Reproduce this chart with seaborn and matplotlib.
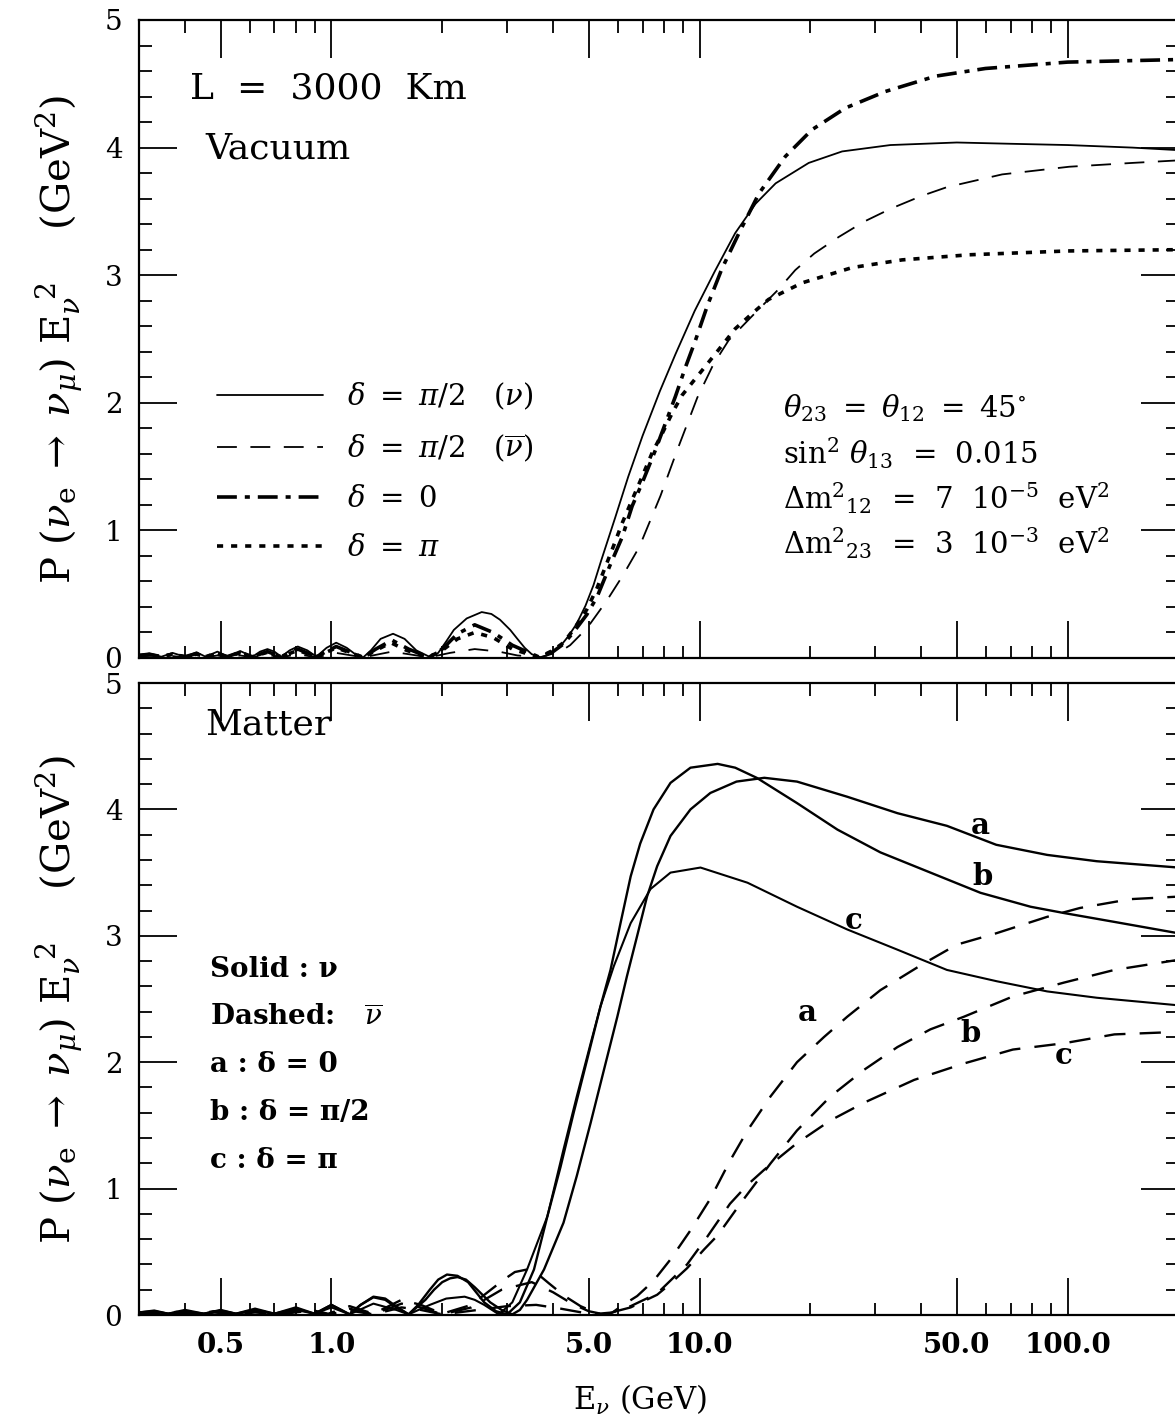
import matplotlib
matplotlib.use("Agg")
import matplotlib.pyplot as plt
import seaborn as sns
from matplotlib.ticker import FixedLocator, NullFormatter

# ---------------- data ----------------
# Top panel (vacuum), L = 3000 km
E_vac_nu_pi2 = [0.30, 0.32, 0.345, 0.37, 0.40, 0.43, 0.455, 0.49, 0.52, 0.565, 0.61, 0.64, 0.67, 0.70, 0.73,
                0.77, 0.81, 0.86, 0.91, 0.97, 1.03, 1.10, 1.16, 1.22, 1.28, 1.36, 1.47, 1.58, 1.70, 1.86,
                1.95, 2.05, 2.15, 2.33, 2.56, 2.72, 2.87, 3.06, 3.2, 3.35, 3.5, 3.7, 3.85, 4.0, 4.18, 4.4,
                4.64, 4.9, 5.15, 5.4, 5.9, 6.4, 7.0, 7.8, 8.6, 9.7, 11.0, 12.5, 14.2, 16.1, 19.8, 24.4,
                33.0, 50.0, 70.0, 100.0, 150.0, 200.0]
P_vac_nu_pi2 = [0.02, 0.035, 0.01, 0.04, 0.01, 0.045, 0.01, 0.05, 0.01, 0.055, 0.01, 0.05, 0.07, 0.05, 0.01,
                0.06, 0.09, 0.06, 0.01, 0.08, 0.12, 0.08, 0.03, 0.005, 0.06, 0.15, 0.19, 0.15, 0.06, 0.005,
                0.04, 0.13, 0.22, 0.31, 0.36, 0.345, 0.30, 0.22, 0.15, 0.08, 0.03, 0.005, 0.02, 0.05, 0.09, 0.17,
                0.27, 0.41, 0.57, 0.76, 1.10, 1.42, 1.74, 2.09, 2.38, 2.72, 3.03, 3.33, 3.56, 3.72, 3.88, 3.97,
                4.02, 4.04, 4.03, 4.02, 4.00, 3.98]

E_vac_nubar_pi2 = [0.30, 0.345, 0.37, 0.40, 0.43, 0.455, 0.49, 0.52, 0.565, 0.61, 0.67, 0.73, 0.81, 0.91,
                   1.03, 1.22, 1.46, 1.84, 2.1, 2.45, 2.85, 3.2, 3.68, 4.18, 4.45, 4.74, 5.05, 5.6, 6.2, 6.86,
                   7.83, 8.7, 9.86, 10.9, 12.0, 13.9, 16.4, 18.2, 20.5, 23.9, 28.0, 33.0, 40.0, 47.0, 66.4,
                   101.0, 150.0, 200.0]
P_vac_nubar_pi2 = [0.01, 0.005, 0.015, 0.005, 0.015, 0.005, 0.02, 0.005, 0.02, 0.005, 0.025, 0.005, 0.03, 0.005,
                   0.04, 0.005, 0.05, 0.005, 0.04, 0.07, 0.05, 0.02, 0.005, 0.05, 0.10, 0.18, 0.27, 0.45, 0.65, 0.87,
                   1.27, 1.63, 2.04, 2.30, 2.49, 2.68, 2.89, 3.04, 3.17, 3.30, 3.42, 3.52, 3.62, 3.69, 3.79,
                   3.85, 3.88, 3.90]

E_vac_d0 = [0.30, 0.32, 0.345, 0.37, 0.40, 0.43, 0.455, 0.49, 0.52, 0.565, 0.61, 0.67, 0.73, 0.81, 0.91,
            1.03, 1.22, 1.32, 1.46, 1.62, 1.84, 2.0, 2.2, 2.45, 2.75, 3.1, 3.68, 4.0, 4.27, 4.54, 4.94,
            5.27, 5.7, 6.17, 6.56, 6.98, 7.59, 8.08, 8.6, 9.16, 9.75, 10.5, 11.5, 12.8, 14.5, 17.1, 20.2,
            24.9, 32.0, 43.8, 59.8, 100.0, 200.0]
P_vac_d0 = [0.02, 0.03, 0.01, 0.03, 0.01, 0.035, 0.01, 0.04, 0.01, 0.045, 0.01, 0.05, 0.01, 0.07, 0.01,
            0.09, 0.005, 0.07, 0.14, 0.07, 0.005, 0.07, 0.19, 0.26, 0.20, 0.10, 0.005, 0.05, 0.11, 0.20, 0.34,
            0.48, 0.72, 0.95, 1.19, 1.37, 1.63, 1.84, 2.05, 2.28, 2.49, 2.76, 3.05, 3.33, 3.64, 3.93, 4.14,
            4.31, 4.44, 4.56, 4.62, 4.67, 4.69]

E_vac_dpi = [0.30, 0.32, 0.345, 0.37, 0.40, 0.43, 0.455, 0.49, 0.52, 0.565, 0.61, 0.67, 0.73, 0.81, 0.91,
             1.03, 1.22, 1.32, 1.45, 1.6, 1.83, 2.0, 2.2, 2.45, 2.75, 3.1, 3.66, 4.0, 4.27, 4.54, 4.94,
             5.27, 5.79, 6.17, 6.56, 6.98, 7.44, 7.92, 8.43, 8.97, 9.75, 10.2, 11.3, 12.5, 13.9, 15.4, 19.0,
             26.0, 35.5, 54.0, 100.0, 200.0]
P_vac_dpi = [0.02, 0.025, 0.01, 0.03, 0.01, 0.03, 0.01, 0.035, 0.01, 0.04, 0.01, 0.045, 0.01, 0.06, 0.01,
             0.08, 0.005, 0.06, 0.12, 0.06, 0.005, 0.06, 0.15, 0.20, 0.16, 0.07, 0.005, 0.06, 0.12, 0.22, 0.38,
             0.55, 0.85, 1.06, 1.24, 1.42, 1.61, 1.76, 1.92, 2.06, 2.19, 2.26, 2.42, 2.58, 2.70, 2.81, 2.94,
             3.06, 3.12, 3.16, 3.19, 3.20]

# Bottom panel (matter): solid = neutrino, dashed = antineutrino
E_mat_nu_a = [0.30, 0.33, 0.36, 0.40, 0.45, 0.5, 0.55, 0.62, 0.70, 0.80, 0.90, 1.0, 1.12, 1.2, 1.3, 1.4, 1.5,
              1.62, 1.8, 1.9, 2.0, 2.1, 2.2, 2.32, 2.45, 2.7, 2.9, 3.1, 3.25, 3.4, 3.78, 4.27, 4.64, 5.06, 5.5,
              5.98, 6.35, 6.77, 7.2, 7.67, 8.34, 9.45, 10.7, 12.6, 15.0, 18.4, 25.2, 34.5, 47.0, 64.0, 88.0,
              120.0, 200.0]
P_mat_nu_a = [0.02, 0.03, 0.01, 0.03, 0.01, 0.035, 0.01, 0.04, 0.01, 0.05, 0.01, 0.08, 0.005, 0.08, 0.14, 0.12,
              0.06, 0.005, 0.12, 0.20, 0.26, 0.29, 0.30, 0.28, 0.22, 0.10, 0.04, 0.005, 0.04, 0.12, 0.36, 0.73,
              1.10, 1.52, 1.94, 2.36, 2.68, 3.00, 3.31, 3.55, 3.79, 4.00, 4.13, 4.22, 4.25, 4.22, 4.10, 3.97,
              3.87, 3.72, 3.64, 3.59, 3.54]

E_mat_nu_b = [0.30, 0.33, 0.36, 0.40, 0.45, 0.5, 0.55, 0.62, 0.70, 0.80, 0.90, 1.0, 1.12, 1.2, 1.3, 1.4, 1.48,
              1.62, 1.72, 1.85, 1.95, 2.06, 2.2, 2.35, 2.6, 2.8, 3.0, 3.25, 3.55, 3.86, 4.19, 4.55, 4.95, 5.38,
              5.73, 6.1, 6.5, 6.9, 7.5, 8.34, 9.45, 11.2, 12.5, 14.3, 18.4, 23.7, 31.0, 42.4, 58.0, 79.3,
              97.8, 134.0, 200.0]
P_mat_nu_b = [0.02, 0.035, 0.01, 0.04, 0.01, 0.04, 0.01, 0.05, 0.01, 0.06, 0.01, 0.08, 0.005, 0.08, 0.145, 0.13,
              0.08, 0.005, 0.08, 0.20, 0.28, 0.32, 0.31, 0.26, 0.10, 0.03, 0.005, 0.10, 0.36, 0.78, 1.17, 1.60,
              2.02, 2.44, 2.73, 3.10, 3.47, 3.73, 4.00, 4.21, 4.33, 4.36, 4.33, 4.25, 4.05, 3.84, 3.66, 3.50,
              3.34, 3.23, 3.18, 3.11, 3.02]

E_mat_nu_c = [0.30, 0.33, 0.36, 0.40, 0.45, 0.5, 0.55, 0.62, 0.70, 0.80, 0.90, 1.0, 1.12, 1.3, 1.5, 1.62,
              1.85, 2.05, 2.3, 2.45, 2.6, 2.85, 3.1, 3.4, 3.86, 4.27, 4.64, 5.06, 5.38, 5.85, 6.5, 7.36, 8.34,
              10.06, 13.5, 18.4, 25.2, 34.5, 47.0, 64.3, 88.0, 120.0, 200.0]
P_mat_nu_c = [0.015, 0.025, 0.01, 0.025, 0.01, 0.03, 0.01, 0.03, 0.01, 0.04, 0.01, 0.06, 0.005, 0.09, 0.04, 0.005,
              0.08, 0.13, 0.145, 0.12, 0.08, 0.005, 0.10, 0.36, 0.78, 1.31, 1.73, 2.15, 2.44, 2.76, 3.10, 3.37,
              3.50, 3.54, 3.42, 3.23, 3.05, 2.89, 2.73, 2.64, 2.56, 2.51, 2.45]

E_mat_nubar_a = [0.30, 0.34, 0.38, 0.43, 0.48, 0.55, 0.62, 0.72, 0.85, 0.98, 1.12, 1.3, 1.55, 1.75, 2.0,
                 2.4, 2.94, 3.15, 3.4, 3.65, 3.9, 4.3, 4.75, 5.3, 5.8, 6.2, 6.77, 7.5, 8.34, 9.45, 10.7, 12.1,
                 13.5, 15.6, 18.4, 21.8, 25.2, 31.0, 40.6, 50.0, 64.0, 88.0, 108.0, 148.0, 200.0]
P_mat_nubar_a = [0.02, 0.01, 0.025, 0.01, 0.03, 0.01, 0.035, 0.01, 0.05, 0.01, 0.07, 0.01, 0.12, 0.08, 0.01,
                 0.08, 0.28, 0.34, 0.36, 0.32, 0.25, 0.15, 0.07, 0.01, 0.02, 0.08, 0.15, 0.27, 0.44, 0.67, 0.92,
                 1.22, 1.46, 1.73, 2.00, 2.20, 2.36, 2.57, 2.78, 2.93, 3.02, 3.15, 3.22, 3.29, 3.31]

E_mat_nubar_b = [0.30, 0.34, 0.38, 0.43, 0.48, 0.55, 0.62, 0.72, 0.85, 0.98, 1.12, 1.3, 1.55, 1.75, 2.0,
                 2.4, 2.9, 3.5, 4.0, 4.5, 5.0, 5.5, 6.5, 7.67, 8.2, 9.25, 10.3, 11.2, 12.9, 15.6, 18.4,
                 22.7, 28.0, 34.5, 42.4, 52.3, 71.0, 97.8, 134.0, 200.0]
P_mat_nubar_b = [0.015, 0.005, 0.02, 0.005, 0.025, 0.005, 0.03, 0.005, 0.04, 0.005, 0.05, 0.005, 0.09, 0.06, 0.005,
                 0.06, 0.20, 0.26, 0.18, 0.09, 0.03, 0.005, 0.06, 0.16, 0.23, 0.37, 0.52, 0.63, 0.88, 1.20, 1.46,
                 1.73, 1.94, 2.12, 2.26, 2.36, 2.52, 2.63, 2.73, 2.81]

E_mat_nubar_c = [0.30, 0.34, 0.38, 0.43, 0.48, 0.55, 0.62, 0.72, 0.85, 0.98, 1.12, 1.3, 1.55, 1.75, 2.0,
                 2.5, 3.0, 3.6, 4.2, 5.0, 5.6, 6.5, 7.67, 9.25, 10.5, 12.1, 13.5, 15.0, 18.4, 22.7, 28.0,
                 38.3, 52.3, 71.0, 97.8, 134.0, 200.0]
P_mat_nubar_c = [0.01, 0.005, 0.015, 0.005, 0.02, 0.005, 0.02, 0.005, 0.03, 0.005, 0.035, 0.005, 0.06, 0.04, 0.005,
                 0.04, 0.07, 0.08, 0.05, 0.01, 0.005, 0.07, 0.17, 0.40, 0.62, 0.88, 1.03, 1.15, 1.36, 1.54, 1.68,
                 1.86, 1.99, 2.10, 2.15, 2.22, 2.24]

x_major = [0.5, 1.0, 5.0, 10.0, 50.0, 100.0]
x_major_labels = ["0.5", "1.0", "5.0", "10.0", "50.0", "100.0"]
x_minor = [0.3, 0.4, 0.6, 0.7, 0.8, 0.9, 2, 3, 4, 6, 7, 8, 9, 20, 30, 40, 60, 70, 80, 90, 200]
y_major = [0, 1, 2, 3, 4, 5]
y_minor = [0.2, 0.4, 0.6, 0.8, 1.2, 1.4, 1.6, 1.8, 2.2, 2.4, 2.6, 2.8, 3.2, 3.4, 3.6, 3.8, 4.2, 4.4, 4.6, 4.8]

legend_labels = [r"$\delta\ =\ \pi/2\ \ \ (\nu)$", r"$\delta\ =\ \pi/2\ \ \ (\overline{\nu})$",
                 r"$\delta\ =\ 0$", r"$\delta\ =\ \pi$"]
param_lines = [r"$\theta_{23}\ =\ \theta_{12}\ =\ 45^{\circ}$",
               r"sin$^2\ \theta_{13}$  =  0.015",
               r"$\Delta$m$^2{}_{12}$  =  7  10$^{-5}$  eV$^2$",
               r"$\Delta$m$^2{}_{23}$  =  3  10$^{-3}$  eV$^2$"]
matter_key = ["Solid : \u03bd", r"Dashed:   $\overline{\nu}$", "a : \u03b4 = 0",
              "b : \u03b4 = \u03c0/2", "c : \u03b4 = \u03c0"]
y_label = (r"P $(\nu_{\rm e}\;\rightarrow\;\nu_\mu)$ E$_\nu^{\;\;2}$"
           + "    " + r"(GeV$^2$)")

# ---------------- style ----------------
sns.set_theme(style="ticks")
plt.rcParams["font.family"] = ["DejaVu Serif"]
plt.rcParams["mathtext.fontset"] = "dejavuserif"
plt.rcParams["axes.edgecolor"] = "black"
plt.rcParams["xtick.color"] = "black"
plt.rcParams["ytick.color"] = "black"
plt.rcParams["text.color"] = "black"
plt.rcParams["axes.labelcolor"] = "black"

W, H = 1175, 1421
fig = plt.figure(figsize=(W / 100, H / 100), dpi=100)
x0, xw = 139, 1039.4
ax1 = fig.add_axes([x0 / W, 1 - 658 / H, xw / W, (658 - 20) / H])
ax2 = fig.add_axes([x0 / W, 1 - 1315 / H, xw / W, (1315 - 683) / H])


def draw(ax, E, P, lw, ls):
    sns.lineplot(x=E, y=P, ax=ax, color="black", linewidth=lw, estimator=None, sort=False)
    ln = ax.lines[-1]
    ln.set_linestyle(ls)
    ln.set_solid_joinstyle("round")
    return ln


# top panel curves
h1 = draw(ax1, E_vac_nu_pi2, P_vac_nu_pi2, 1.3, "-")
h2 = draw(ax1, E_vac_nubar_pi2, P_vac_nubar_pi2, 1.3, (0, (11, 7.5)))
h3 = draw(ax1, E_vac_d0, P_vac_d0, 2.6, (0, (5.5, 2.2, 1.4, 2.2)))
h4 = draw(ax1, E_vac_dpi, P_vac_dpi, 2.6, (0, (1.7, 2.2)))

# bottom panel curves
dash_b = (0, (9, 6))
draw(ax2, E_mat_nu_a, P_mat_nu_a, 1.7, "-")
draw(ax2, E_mat_nu_b, P_mat_nu_b, 1.7, "-")
draw(ax2, E_mat_nu_c, P_mat_nu_c, 1.5, "-")
draw(ax2, E_mat_nubar_a, P_mat_nubar_a, 1.7, dash_b)
draw(ax2, E_mat_nubar_b, P_mat_nubar_b, 1.7, dash_b)
draw(ax2, E_mat_nubar_c, P_mat_nubar_c, 1.7, dash_b)

for ax in (ax1, ax2):
    ax.set_xscale("log")
    ax.set_xlim(0.3, 200)
    ax.set_ylim(0, 5)
    ax.xaxis.set_major_locator(FixedLocator(x_major))
    ax.xaxis.set_minor_locator(FixedLocator(x_minor))
    ax.xaxis.set_minor_formatter(NullFormatter())
    ax.yaxis.set_major_locator(FixedLocator(y_major))
    ax.yaxis.set_minor_locator(FixedLocator(y_minor))
    ax.tick_params(which="major", direction="in", top=True, right=True, length=27, width=1.3,
                   labelsize=20, pad=12)
    ax.tick_params(which="minor", direction="in", top=True, right=True, length=9, width=1.3)
    for s in ax.spines.values():
        s.set_linewidth(1.6)
    ax.set_ylabel(y_label, fontsize=29)
    ax.yaxis.set_label_coords(-0.052, 0.5)
    ax.set_xlabel("")

ax1.tick_params(labelbottom=False)
ax2.set_xticks(x_major, labels=x_major_labels, fontweight="bold")
ax2.set_xlabel(r"E$_\nu$ (GeV)", fontsize=22)
ax2.xaxis.set_label_coords(0.482, -0.108)

# top panel texts
ax1.text(0.049, 0.893, "L  =  3000  Km", transform=ax1.transAxes, fontsize=26, va="center", ha="left")
ax1.text(0.0635, 0.799, "Vacuum", transform=ax1.transAxes, fontsize=26, va="center", ha="left")
ax1.legend([h1, h2, h3, h4], legend_labels, loc="upper left", bbox_to_anchor=(0.075, 0.435),
           frameon=False, fontsize=21, handlelength=3.65, handletextpad=0.8, labelspacing=0.72,
           borderpad=0, borderaxespad=0)
for t, yy in zip(param_lines, [0.392, 0.321, 0.251, 0.180]):
    ax1.text(0.62, yy, t, transform=ax1.transAxes, fontsize=21, va="center", ha="left")

# bottom panel texts
ax2.text(0.0635, 0.934, "Matter", transform=ax2.transAxes, fontsize=26, va="center", ha="left")
for t, yy in zip(matter_key, [0.546, 0.470, 0.396, 0.320, 0.245]):
    ax2.text(0.068, yy, t, transform=ax2.transAxes, fontsize=20, fontweight="bold", va="center", ha="left")

curve_tags = [("a", 58.0, 3.87), ("b", 58.6, 3.47), ("c", 26.3, 3.12),
              ("a", 19.6, 2.39), ("b", 54.5, 2.23), ("c", 97.7, 2.05)]
for t, ex, ey in curve_tags:
    ax2.text(ex, ey, t, fontsize=21, fontweight="bold", ha="center", va="center")

fig.savefig("out.png", dpi=100, facecolor="white")
